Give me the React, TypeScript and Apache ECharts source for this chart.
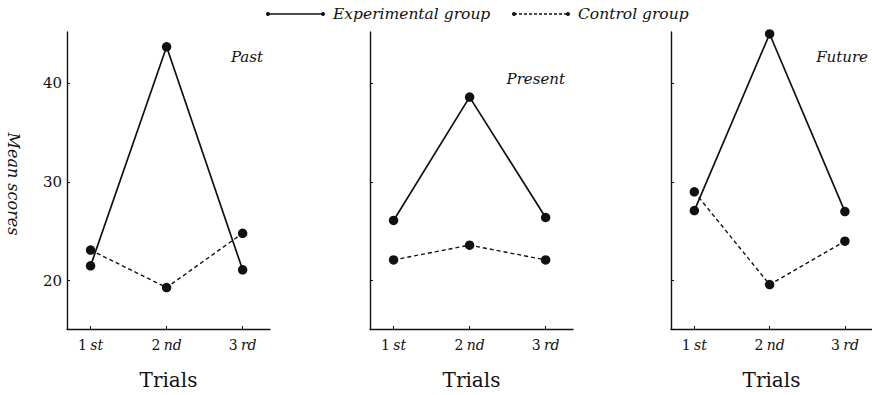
import React, { useEffect, useRef } from "react";
import * as echarts from "echarts";

const trials = [1, 2, 3];
const trialNumbers = ["1", "2", "3"];
const trialSuffixes = ["st", "nd", "rd"];
const panelNames = ["Past", "Present", "Future"];
const yTicks = [20, 30, 40];

const expPast = [21.5, 43.7, 21.1];
const ctrlPast = [23.1, 19.3, 24.8];
const expPresent = [26.1, 38.6, 26.4];
const ctrlPresent = [22.1, 23.6, 22.1];
const expFuture = [27.1, 45.0, 27.0];
const ctrlFuture = [29.0, 19.6, 24.0];

const legendExp = "Experimental group";
const legendCtrl = "Control group";
const yName = "Mean scores";
const xName = "Trials";

const INK = "#111";
const SERIF = "'DejaVu Serif', 'Liberation Serif', serif";

export default function App() {
  const ref = useRef<HTMLDivElement>(null);

  useEffect(() => {
    if (!ref.current) return;
    const chart = echarts.init(ref.current, null, { renderer: "svg" });

    const lefts = [67, 370, 671];
    const width = 203;
    const expData = [expPast, expPresent, expFuture];
    const ctrlData = [ctrlPast, ctrlPresent, ctrlFuture];
    const titlePos = [
      [263, 57],
      [565, 79],
      [868, 57],
    ];

    const grid = lefts.map((l) => ({ left: l, top: 32, width, height: 301 }));

    const xAxis = lefts.map((_, i) => ({
      type: "value",
      gridIndex: i,
      min: 0.69,
      max: 3.36,
      axisLine: { show: true, lineStyle: { color: INK, width: 1.4 } },
      axisTick: {
        show: true,
        inside: true,
        length: 3,
        customValues: trials,
        lineStyle: { color: INK, width: 1 },
      },
      splitLine: { show: false },
      axisLabel: {
        show: true,
        customValues: trials,
        margin: 9,
        formatter: (v: number) => {
          const k = trials.indexOf(Math.round(v));
          return k < 0 ? "" : `{n|${trialNumbers[k]}} {s|${trialSuffixes[k]}}`;
        },
        rich: {
          n: { fontFamily: SERIF, fontSize: 14, color: INK },
          s: { fontFamily: SERIF, fontSize: 14, fontStyle: "italic", color: INK },
        },
      },
      name: xName,
      nameLocation: "middle",
      nameGap: 41,
      nameTextStyle: { fontFamily: SERIF, fontSize: 20, color: INK },
    }));

    const yAxis = lefts.map((_, i) => ({
      type: "value",
      gridIndex: i,
      min: 15.1,
      max: 45.2,
      axisLine: { show: true, lineStyle: { color: INK, width: 1.4 } },
      axisTick: {
        show: true,
        inside: true,
        length: 3,
        customValues: yTicks,
        lineStyle: { color: INK, width: 1 },
      },
      splitLine: { show: false },
      axisLabel: {
        show: i === 0,
        customValues: yTicks,
        margin: 5,
        fontFamily: SERIF,
        fontSize: 15,
        color: INK,
      },
    }));

    const series: any[] = [];
    lefts.forEach((_, i) => {
      series.push({
        type: "line",
        name: legendCtrl,
        xAxisIndex: i,
        yAxisIndex: i,
        data: trials.map((t, j) => [t, ctrlData[i][j]]),
        symbol: "circle",
        symbolSize: 9.5,
        itemStyle: { color: INK },
        lineStyle: { color: INK, width: 1.4, type: [4, 3] },
        z: 2,
      });
      series.push({
        type: "line",
        name: legendExp,
        xAxisIndex: i,
        yAxisIndex: i,
        data: trials.map((t, j) => [t, expData[i][j]]),
        symbol: "circle",
        symbolSize: 9.5,
        itemStyle: { color: INK },
        lineStyle: { color: INK, width: 1.7 },
        z: 3,
      });
    });

    const italic = (text: string, x: number, y: number, align: string, size = 15.5) => ({
      type: "text",
      x,
      y,
      style: {
        text,
        fill: INK,
        font: `italic ${size}px ${SERIF}`,
        textAlign: align,
        textVerticalAlign: "middle",
      },
    });

    const graphic: any[] = [
      // legend: experimental
      { type: "line", shape: { x1: 268, y1: 14, x2: 323, y2: 14 }, style: { stroke: INK, lineWidth: 1.6 } },
      { type: "circle", shape: { cx: 268, cy: 14, r: 2 }, style: { fill: INK } },
      { type: "circle", shape: { cx: 323, cy: 14, r: 2 }, style: { fill: INK } },
      italic(legendExp, 333, 14, "left"),
      // legend: control
      { type: "line", shape: { x1: 514, y1: 14, x2: 568, y2: 14 }, style: { stroke: INK, lineWidth: 1.3, lineDash: [3, 2] } },
      { type: "circle", shape: { cx: 514, cy: 14, r: 2 }, style: { fill: INK } },
      { type: "circle", shape: { cx: 568, cy: 14, r: 2 }, style: { fill: INK } },
      italic(legendCtrl, 578, 14, "left"),
      // y axis name
      {
        type: "text",
        x: 13,
        y: 184,
        rotation: -Math.PI / 2,
        style: {
          text: yName,
          fill: INK,
          font: `italic 16px ${SERIF}`,
          textAlign: "center",
          textVerticalAlign: "middle",
        },
      },
      ...panelNames.map((n, i) => italic(n, titlePos[i][0], titlePos[i][1], "right", 15)),
    ];

    chart.setOption({
      animation: false,
      backgroundColor: "#fff",
      grid,
      xAxis,
      yAxis,
      series,
      graphic,
    } as any);

    return () => chart.dispose();
  }, []);

  return (
    <div
      ref={ref}
      style={{ position: "fixed", left: 0, top: 0, width: 872, height: 395, background: "#fff" }}
    />
  );
}
